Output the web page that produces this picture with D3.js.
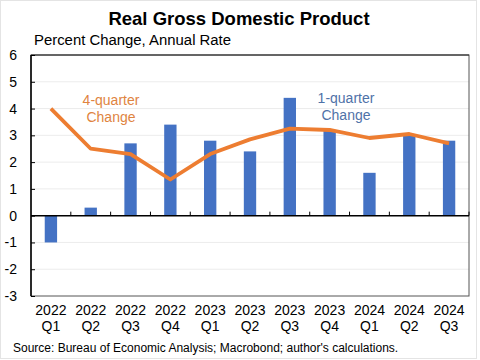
<!DOCTYPE html>
<html><head><meta charset="utf-8">
<script src="https://cdn.jsdelivr.net/npm/d3@7"></script>
<style>body{margin:0;background:#fff;}svg{display:block;font-family:"Liberation Sans",Arial,sans-serif;}</style>
</head><body>
<svg id="c" width="480" height="360"></svg>
<script>
const years = ["2022","2022","2022","2022","2023","2023","2023","2023","2024","2024","2024"];
const quarters = ["Q1","Q2","Q3","Q4","Q1","Q2","Q3","Q4","Q1","Q2","Q3"];
const oneQuarter = [-1.0,0.3,2.7,3.4,2.8,2.4,4.4,3.2,1.6,3.0,2.8];
const fourQuarter = [4.0,2.5,2.3,1.35,2.3,2.85,3.25,3.2,2.9,3.05,2.7];
const yTicks = [-3,-2,-1,0,1,2,3,4,5,6];

const svg = d3.select("#c");
const L=31,R=469,T=55,B=296;
const cats = years.map((y,i)=>i);
const x = d3.scaleBand().domain(cats).range([L,R]).paddingInner(0.69).paddingOuter(0.345);
const xb = d3.scaleBand().domain(cats).range([L,R]);
const y = d3.scaleLinear().domain([-3,6]).range([B,T]);

svg.append("rect").attr("x",0.5).attr("y",0.5).attr("width",476).attr("height",358).attr("fill","#fff").attr("stroke","#e4e4e4");

// gridlines
svg.append("g").selectAll("line").data(yTicks.filter(d=>d!==0&&d!==-3&&d!==6)).join("line")
 .attr("x1",L).attr("x2",R).attr("y1",d=>y(d)).attr("y2",d=>y(d)).attr("stroke","#ececec").attr("stroke-width",1);

// title
svg.append("text").attr("x",239).attr("y",25).attr("text-anchor","middle").attr("font-size",18.5).attr("font-weight","bold").attr("fill","#000").text("Real Gross Domestic Product");
svg.append("text").attr("x",34).attr("y",45).attr("font-size",14.9).attr("fill","#000").text("Percent Change, Annual Rate");

// bars
svg.append("g").selectAll("rect").data(oneQuarter).join("rect")
 .attr("x",(d,i)=>x(i)).attr("width",x.bandwidth())
 .attr("y",d=>y(Math.max(0,d))).attr("height",d=>Math.abs(y(d)-y(0)))
 .attr("fill","#4472C4");

// frame
svg.append("rect").attr("x",L).attr("y",T).attr("width",R-L).attr("height",B-T).attr("fill","none").attr("stroke","#555").attr("stroke-width",1);
svg.append("line").attr("x1",L).attr("x2",L).attr("y1",T).attr("y2",B).attr("stroke","#000").attr("stroke-width",1.5);
svg.append("line").attr("x1",L).attr("x2",R).attr("y1",T).attr("y2",T).attr("stroke","#222");

// zero axis with category ticks
svg.append("line").attr("x1",L).attr("x2",R).attr("y1",y(0)).attr("y2",y(0)).attr("stroke","#000").attr("stroke-width",1.5);
svg.append("g").selectAll("line").data(cats.slice(1).concat([cats.length])).join("line")
 .attr("x1",d=>L+d*xb.step()).attr("x2",d=>L+d*xb.step()).attr("y1",y(0)).attr("y2",y(0)-4).attr("stroke","#000").attr("stroke-width",1);

// y axis
const yAxis = d3.axisRight(y).tickValues(yTicks).tickSize(4).tickFormat("");
svg.append("g").attr("transform",`translate(${L},0)`).call(yAxis).call(g=>{g.select(".domain").remove();g.selectAll("line").attr("stroke","#000");});
svg.append("g").selectAll("text").data(yTicks).join("text")
 .attr("x",17).attr("y",d=>y(d)+5).attr("text-anchor","end").attr("font-size",14).attr("fill","#000").text(d=>d);

// x labels
const xl = svg.append("g").selectAll("text").data(cats).join("text")
 .attr("text-anchor","middle").attr("font-size",14).attr("fill","#000");
xl.append("tspan").attr("x",i=>xb(i)+xb.bandwidth()/2).attr("y",315).text(i=>years[i]);
xl.append("tspan").attr("x",i=>xb(i)+xb.bandwidth()/2).attr("y",331).text(i=>quarters[i]);

// line
const line = d3.line().x((d,i)=>xb(i)+xb.bandwidth()/2).y(d=>y(d));
svg.append("path").datum(fourQuarter).attr("d",line).attr("fill","none").attr("stroke","#ED7D31").attr("stroke-width",3.8).attr("stroke-linejoin","round");

// annotations
const a1 = svg.append("text").attr("text-anchor","middle").attr("font-size",14).attr("fill","#E0843F");
a1.append("tspan").attr("x",111).attr("y",105).text("4-quarter");
a1.append("tspan").attr("x",111).attr("y",122).text("Change");
const a2 = svg.append("text").attr("text-anchor","middle").attr("font-size",14).attr("fill","#4F72A8");
a2.append("tspan").attr("x",346).attr("y",103).text("1-quarter");
a2.append("tspan").attr("x",346).attr("y",120).text("Change");

svg.append("text").attr("x",13).attr("y",352).attr("font-size",12).attr("fill","#000").text("Source: Bureau of Economic Analysis; Macrobond; author's calculations.");
</script>
</body></html>
